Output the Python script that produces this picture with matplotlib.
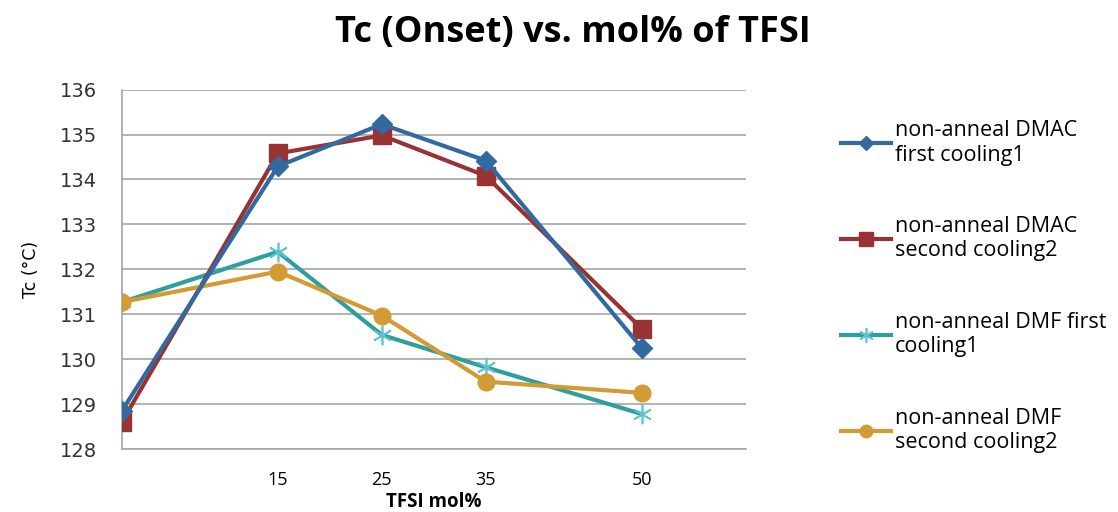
import matplotlib
matplotlib.use("Agg")
import matplotlib.pyplot as plt

# TFSI content (mol%) and onset crystallisation temperatures (°C)
tfsi_mol = [0, 15, 25, 35, 50]
dmac_first = [128.85, 134.29, 135.23, 134.42, 130.25]
dmac_second = [128.6, 134.58, 134.98, 134.08, 130.68]
dmf_first = [131.27, 132.39, 130.54, 129.82, 128.78]
dmf_second = [131.27, 131.95, 130.97, 129.5, 129.25]

labels = [
    "non-anneal DMAC\nfirst cooling1",
    "non-anneal DMAC\nsecond cooling2",
    "non-anneal DMF first\ncooling1",
    "non-anneal DMF\nsecond cooling2",
]
xtick_vals = [15, 25, 35, 50]
ytick_vals = [128, 129, 130, 131, 132, 133, 134, 135, 136]

fig = plt.figure(figsize=(11.18, 5.12), dpi=100)
ax = fig.add_axes([0.109, 0.123, 0.558, 0.702])

ax.plot(tfsi_mol, dmac_first, color="#326aa0", lw=3, marker="D", ms=10,
        label=labels[0], zorder=4)
ax.plot(tfsi_mol, dmac_second, color="#993333", lw=3, marker="s", ms=13,
        label=labels[1], zorder=3)
ax.plot(tfsi_mol, dmf_first, color="#2e9f9f", lw=3, marker=(6, 2, 0), ms=14,
        mec="#5cc3cf", mew=1.2, label=labels[2], zorder=2)
ax.plot(tfsi_mol, dmf_second, color="#d39b33", lw=3, marker="o", ms=12,
        label=labels[3], zorder=3)

ax.set_xlim(0, 60)
ax.set_ylim(128, 136)
ax.set_xticks(xtick_vals)
ax.set_xticklabels([str(v) for v in xtick_vals], family="Open Sans", fontsize=13)
ax.set_yticks(ytick_vals)
ax.tick_params(axis="y", labelsize=14, length=0, pad=18, colors="#333333")
ax.tick_params(axis="x", length=0, pad=16)
ax.yaxis.grid(True, color="#a6a6a6", lw=1.2)
ax.set_axisbelow(True)
for side in ["top", "right"]:
    ax.spines[side].set_visible(False)
for side in ["left", "bottom"]:
    ax.spines[side].set_color("#a6a6a6")
    ax.spines[side].set_linewidth(1.2)

ax.set_xlabel("TFSI mol%", family="Open Sans", fontweight="bold", fontsize=13.5, labelpad=2)
ax.set_ylabel("Tc (°C)", fontsize=12.5, labelpad=14)

fig.text(0.512, 0.935, "Tc (Onset) vs. mol% of TFSI", ha="center", va="center",
         family="Open Sans", fontweight="bold", fontsize=26)

ax.legend(loc="center left", bbox_to_anchor=(0.735, 0.44),
          bbox_transform=fig.transFigure, frameon=False,
          prop={"family": "Open Sans", "size": 15.5}, handlelength=2.3,
          handletextpad=0.2, labelspacing=2.35, markerscale=0.75)

fig.savefig("out.png", dpi=100)
